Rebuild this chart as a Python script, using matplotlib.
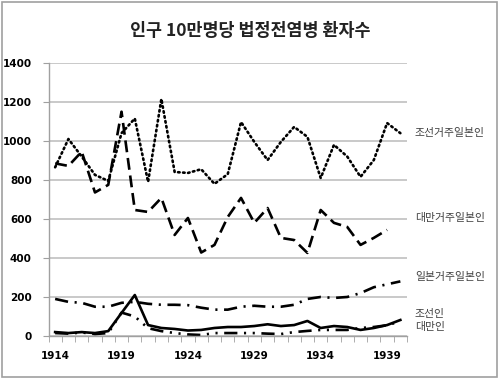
import numpy as np
import matplotlib.pyplot as plt
from matplotlib.patches import Rectangle

plt.rcParams['font.family'] = ['Noto Sans CJK KR', 'DejaVu Sans']

# years 1914 ~ 1940
years = list(range(1914, 1941))

# 조선거주일본인 (dotted)
joseon_jp = [865, 1010, 920, 826, 795, 1040, 1115, 790, 1215, 841, 836, 855, 780,
             830, 1097, 995, 902, 995, 1072, 1021, 810, 980, 920, 816, 902, 1092, 1040]
# 대만거주일본인 (dashed), no value for 1940
taiwan_jp = [885, 872, 945, 736, 775, 1150, 646, 636, 708, 518, 605, 428, 467,
             610, 708, 580, 656, 503, 492, 426, 646, 580, 559, 467, 503, 544, np.nan]
# 일본거주일본인 (dash-dot)
japan_jp = [190, 175, 170, 150, 150, 170, 175, 165, 160, 160, 158, 145, 135,
            135, 150, 155, 150, 150, 160, 190, 200, 195, 200, 220, 250, 265, 280]
# 조선인 (solid)
joseon = [20, 15, 20, 15, 25, 118, 210, 56, 41, 36, 28, 31, 41,
          46, 46, 51, 60, 51, 56, 77, 41, 51, 46, 31, 41, 56, 82]
# 대만인 (long dash - dot - dot)
taiwan = [15, 12, 18, 10, 15, 120, 100, 40, 25, 15, 8, 5, 15,
          15, 15, 15, 12, 10, 20, 26, 31, 31, 31, 41, 46, 55, 75]

series_labels = ['조선거주일본인', '대만거주일본인', '일본거주일본인', '조선인', '대만인']
label_y = [1040, 605, 300, 112, 45]

fig = plt.figure(figsize=(5, 3.79), dpi=100)
ax = fig.add_axes([0.097, 0.1135, 0.717, 0.7204])

x = np.arange(len(years))
lw = 1.9
ax.plot(x, joseon_jp, color='black', lw=lw, linestyle=(0, (0.6, 1.3)), dash_capstyle='round')
ax.plot(x, taiwan_jp, color='black', lw=lw, linestyle=(0, (4.5, 2.2)))
ax.plot(x, japan_jp, color='black', lw=lw, linestyle=(0, (5, 2.5, 0.8, 2.5)))
ax.plot(x, joseon, color='black', lw=lw, linestyle='-')
ax.plot(x, taiwan, color='black', lw=lw, linestyle=(0, (5, 2.5, 0.8, 2.5, 0.8, 2.5)))

ax.set_xlim(-0.5, len(years) - 0.5)
ax.set_ylim(0, 1400)
ax.set_yticks(range(0, 1401, 200))
ax.yaxis.grid(True, color='#c0c0c0', lw=1.2)
ax.set_axisbelow(True)

label_idx = [i for i, y in enumerate(years) if (y - 1914) % 5 == 0]
ax.set_xticks(label_idx)
ax.set_xticklabels([str(years[i]) for i in label_idx])
ax.set_xticks(np.arange(-0.5, len(years)), minor=True)
ax.tick_params(axis='x', which='major', length=0, pad=11)
ax.tick_params(axis='x', which='minor', length=4, color='#a0a0a0', direction='out')
ax.tick_params(axis='y', length=4, color='#a0a0a0', direction='out', pad=8)
for lab in ax.get_xticklabels() + ax.get_yticklabels():
    lab.set_fontsize(7.5)
    lab.set_fontweight('bold')
    lab.set_family('DejaVu Sans')

for s in ['top', 'right']:
    ax.spines[s].set_visible(False)
for s in ['left', 'bottom']:
    ax.spines[s].set_color('#a0a0a0')
    ax.spines[s].set_linewidth(1)

for txt, yv in zip(series_labels, label_y):
    ax.text(len(years) + 0.1, yv, txt, fontsize=7.8, color='#404040',
            va='center', ha='left', clip_on=False)

fig.text(0.5, 0.918, '인구 10만명당 법정전염병 환자수', ha='center', va='center',
         fontsize=12.5, fontweight='bold', color='#222222')

fig.patches.append(Rectangle((0.004, 0.005), 0.99, 0.99, transform=fig.transFigure,
                             fill=False, edgecolor='#a0a0a0', lw=1.2))

fig.savefig('out.png', dpi=100)
